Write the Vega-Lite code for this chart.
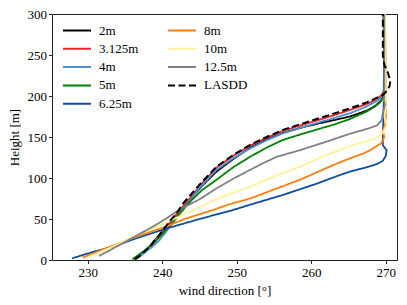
{
  "$schema": "https://vega.github.io/schema/vega-lite/v6.json",
  "width": 345,
  "height": 246,
  "autosize": "none",
  "padding": {"left": 52, "top": 14, "right": 10, "bottom": 45},
  "config": {
    "font": "Liberation Serif, DejaVu Serif, serif",
    "view": {"stroke": "#222", "strokeWidth": 1},
    "axis": {"labelFont": "Liberation Serif, DejaVu Serif, serif", "labelFontSize": 13, "titleFont": "Liberation Serif, DejaVu Serif, serif", "titleFontSize": 13, "titleFontWeight": "normal", "labelColor": "#000", "titleColor": "#000", "tickColor": "#222", "tickSize": 3.5, "grid": false, "domain": false},
    "legend": {"labelFont": "Liberation Serif, DejaVu Serif, serif", "labelFontSize": 13, "labelColor": "#000"}
  },
  "data": {"values": [
    {"s":"2m","x":236.4,"y":1},{"s":"2m","x":237.2,"y":6},{"s":"2m","x":237.9,"y":12},{"s":"2m","x":238.8,"y":22},{"s":"2m","x":239.9,"y":33},{"s":"2m","x":241.0,"y":45},{"s":"2m","x":242.4,"y":61},{"s":"2m","x":243.7,"y":74},{"s":"2m","x":245.5,"y":92},{"s":"2m","x":247.3,"y":108},{"s":"2m","x":249.5,"y":123},{"s":"2m","x":251.8,"y":137},{"s":"2m","x":254,"y":147},{"s":"2m","x":256.2,"y":155},{"s":"2m","x":258.5,"y":161},{"s":"2m","x":260.7,"y":166},{"s":"2m","x":263,"y":170.5},{"s":"2m","x":265.2,"y":175},{"s":"2m","x":267.4,"y":182},{"s":"2m","x":268.6,"y":188},{"s":"2m","x":269.3,"y":194},{"s":"2m","x":269.8,"y":200},{"s":"2m","x":270,"y":206},{"s":"2m","x":270,"y":215},{"s":"2m","x":269.8,"y":235},{"s":"2m","x":269.7,"y":300},
    {"s":"3.125m","x":236.2,"y":1},{"s":"3.125m","x":237.1,"y":6},{"s":"3.125m","x":237.8,"y":12},{"s":"3.125m","x":238.8,"y":22},{"s":"3.125m","x":239.9,"y":33},{"s":"3.125m","x":241,"y":45},{"s":"3.125m","x":242.6,"y":63},{"s":"3.125m","x":245,"y":90},{"s":"3.125m","x":247.3,"y":113},{"s":"3.125m","x":249.5,"y":127},{"s":"3.125m","x":251.8,"y":139.5},{"s":"3.125m","x":254,"y":149},{"s":"3.125m","x":256.2,"y":157.5},{"s":"3.125m","x":258.5,"y":164},{"s":"3.125m","x":260.7,"y":170},{"s":"3.125m","x":263,"y":176.5},{"s":"3.125m","x":265.2,"y":183},{"s":"3.125m","x":267.4,"y":190},{"s":"3.125m","x":268.8,"y":196},{"s":"3.125m","x":269.5,"y":202},{"s":"3.125m","x":269.9,"y":210},{"s":"3.125m","x":270,"y":220},{"s":"3.125m","x":269.8,"y":240},{"s":"3.125m","x":269.7,"y":300},
    {"s":"4m","x":236.3,"y":1},{"s":"4m","x":237.5,"y":8},{"s":"4m","x":238.5,"y":15},{"s":"4m","x":239.5,"y":23},{"s":"4m","x":240.4,"y":33},{"s":"4m","x":241.3,"y":44},{"s":"4m","x":242.8,"y":62},{"s":"4m","x":245,"y":88},{"s":"4m","x":247.3,"y":110},{"s":"4m","x":249.5,"y":124},{"s":"4m","x":251.8,"y":136},{"s":"4m","x":254,"y":146},{"s":"4m","x":256.2,"y":154.5},{"s":"4m","x":258.5,"y":161},{"s":"4m","x":260.7,"y":167},{"s":"4m","x":263,"y":173},{"s":"4m","x":265.2,"y":179},{"s":"4m","x":267.4,"y":187},{"s":"4m","x":268.8,"y":194},{"s":"4m","x":269.6,"y":200},{"s":"4m","x":270,"y":210},{"s":"4m","x":270,"y":230},{"s":"4m","x":269.8,"y":300},
    {"s":"5m","x":236.0,"y":1},{"s":"5m","x":237.4,"y":10},{"s":"5m","x":238.8,"y":20},{"s":"5m","x":240.1,"y":32.6},{"s":"5m","x":241.3,"y":44.8},{"s":"5m","x":242.4,"y":57},{"s":"5m","x":243.5,"y":69},{"s":"5m","x":245.3,"y":85},{"s":"5m","x":247.3,"y":98},{"s":"5m","x":249.5,"y":113},{"s":"5m","x":251.8,"y":126},{"s":"5m","x":254,"y":137},{"s":"5m","x":256.2,"y":146.5},{"s":"5m","x":258.5,"y":153},{"s":"5m","x":260.7,"y":159},{"s":"5m","x":263,"y":165},{"s":"5m","x":265.2,"y":172},{"s":"5m","x":267.4,"y":181},{"s":"5m","x":268.5,"y":187},{"s":"5m","x":269.2,"y":192},{"s":"5m","x":269.6,"y":198},{"s":"5m","x":269.9,"y":205},{"s":"5m","x":270,"y":215},{"s":"5m","x":269.9,"y":240},{"s":"5m","x":269.8,"y":300},
    {"s":"6.25m","x":227.9,"y":2},{"s":"6.25m","x":230,"y":8},{"s":"6.25m","x":232,"y":13},{"s":"6.25m","x":233.6,"y":17},{"s":"6.25m","x":237,"y":28},{"s":"6.25m","x":240.6,"y":38.5},{"s":"6.25m","x":245,"y":50},{"s":"6.25m","x":249.5,"y":61},{"s":"6.25m","x":252,"y":68},{"s":"6.25m","x":256.2,"y":79.4},{"s":"6.25m","x":260.7,"y":93},{"s":"6.25m","x":263.8,"y":103.5},{"s":"6.25m","x":265.2,"y":107.8},{"s":"6.25m","x":267.4,"y":113},{"s":"6.25m","x":268.8,"y":117},{"s":"6.25m","x":269.6,"y":121},{"s":"6.25m","x":270,"y":127},{"s":"6.25m","x":270.1,"y":134},{"s":"6.25m","x":269.6,"y":140},{"s":"6.25m","x":269.6,"y":150},{"s":"6.25m","x":269.7,"y":180},{"s":"6.25m","x":269.8,"y":300},
    {"s":"8m","x":229.3,"y":3},{"s":"8m","x":231,"y":9},{"s":"8m","x":233.5,"y":18},{"s":"8m","x":237,"y":30},{"s":"8m","x":240.6,"y":41},{"s":"8m","x":243,"y":50},{"s":"8m","x":246.8,"y":61},{"s":"8m","x":249,"y":68},{"s":"8m","x":251.8,"y":75},{"s":"8m","x":255,"y":86},{"s":"8m","x":258.5,"y":98},{"s":"8m","x":262,"y":112},{"s":"8m","x":263.8,"y":119},{"s":"8m","x":265.2,"y":124},{"s":"8m","x":267,"y":130},{"s":"8m","x":267.9,"y":134},{"s":"8m","x":269.4,"y":142.5},{"s":"8m","x":269.8,"y":150},{"s":"8m","x":269.6,"y":157},{"s":"8m","x":269.9,"y":165},{"s":"8m","x":270,"y":175},{"s":"8m","x":269.9,"y":300},
    {"s":"10m","x":230.2,"y":4},{"s":"10m","x":231.5,"y":9},{"s":"10m","x":233.5,"y":17},{"s":"10m","x":237,"y":32},{"s":"10m","x":240.6,"y":46},{"s":"10m","x":243,"y":56},{"s":"10m","x":245.1,"y":65},{"s":"10m","x":248,"y":77},{"s":"10m","x":251.8,"y":89.5},{"s":"10m","x":255,"y":102},{"s":"10m","x":258.5,"y":114},{"s":"10m","x":262,"y":128},{"s":"10m","x":263.8,"y":134},{"s":"10m","x":265.2,"y":139},{"s":"10m","x":267,"y":144},{"s":"10m","x":268.3,"y":147},{"s":"10m","x":269.2,"y":151},{"s":"10m","x":269.6,"y":155},{"s":"10m","x":270.1,"y":165},{"s":"10m","x":269.8,"y":175},{"s":"10m","x":270,"y":185},{"s":"10m","x":270,"y":230},{"s":"10m","x":269.9,"y":300},
    {"s":"12.5m","x":231.5,"y":5},{"s":"12.5m","x":233,"y":12},{"s":"12.5m","x":235,"y":22},{"s":"12.5m","x":237,"y":32},{"s":"12.5m","x":239,"y":42},{"s":"12.5m","x":240.6,"y":51},{"s":"12.5m","x":242.4,"y":62},{"s":"12.5m","x":245,"y":74},{"s":"12.5m","x":247.3,"y":87.5},{"s":"12.5m","x":249.5,"y":99},{"s":"12.5m","x":251.8,"y":110},{"s":"12.5m","x":253.5,"y":118},{"s":"12.5m","x":255.4,"y":126},{"s":"12.5m","x":258.5,"y":134},{"s":"12.5m","x":262.1,"y":144.5},{"s":"12.5m","x":265.2,"y":154},{"s":"12.5m","x":267.5,"y":160},{"s":"12.5m","x":268.8,"y":164},{"s":"12.5m","x":269.4,"y":170},{"s":"12.5m","x":269.7,"y":183},{"s":"12.5m","x":269.9,"y":190},{"s":"12.5m","x":269.7,"y":195},{"s":"12.5m","x":269.8,"y":210},{"s":"12.5m","x":269.8,"y":300},
    {"s":"LASDD","x":236.3,"y":1},{"s":"LASDD","x":237,"y":5},{"s":"LASDD","x":237.8,"y":12},{"s":"LASDD","x":238.5,"y":18},{"s":"LASDD","x":239.2,"y":26},{"s":"LASDD","x":239.8,"y":33},{"s":"LASDD","x":240.8,"y":45},{"s":"LASDD","x":242,"y":58},{"s":"LASDD","x":242.8,"y":69},{"s":"LASDD","x":245,"y":92},{"s":"LASDD","x":247.3,"y":114},{"s":"LASDD","x":249.5,"y":128},{"s":"LASDD","x":251.8,"y":140.5},{"s":"LASDD","x":254,"y":150},{"s":"LASDD","x":256.2,"y":158.7},{"s":"LASDD","x":258.5,"y":165.5},{"s":"LASDD","x":260.7,"y":172},{"s":"LASDD","x":263,"y":178.5},{"s":"LASDD","x":265.2,"y":185},{"s":"LASDD","x":267.4,"y":192},{"s":"LASDD","x":268.6,"y":197},{"s":"LASDD","x":269.6,"y":201},{"s":"LASDD","x":270.1,"y":206},{"s":"LASDD","x":270.5,"y":212},{"s":"LASDD","x":270.6,"y":218},{"s":"LASDD","x":270.3,"y":228},{"s":"LASDD","x":269.8,"y":238},{"s":"LASDD","x":269.6,"y":250},{"s":"LASDD","x":269.6,"y":300}
  ]},
  "encoding": {
    "x": {"field": "x", "type": "quantitative", "scale": {"domain": [225.2, 271.5], "nice": false, "zero": false}, "axis": {"title": "wind direction  [°]", "values": [230, 240, 250, 260, 270], "labelPadding": 3, "titlePadding": 5}},
    "y": {"field": "y", "type": "quantitative", "scale": {"domain": [0, 300], "nice": false}, "axis": {"title": "Height [m]", "values": [0, 50, 100, 150, 200, 250, 300], "labelPadding": 2, "titlePadding": 6}},
    "order": {"field": "y", "type": "quantitative"},
    "color": {"field": "s", "type": "nominal",
      "scale": {"domain": ["2m", "3.125m", "4m", "5m", "6.25m", "8m", "10m", "12.5m", "LASDD"],
                "range": ["#000000", "#e8262a", "#4f8fd6", "#008000", "#0d4da1", "#ff7f0e", "#fff09a", "#808080", "#000000"]},
      "legend": {"title": null, "orient": "none", "legendX": 17, "legendY": 8.5, "padding": 0, "columns": 2, "columnPadding": 25, "rowPadding": 3.3, "symbolType": "M-2,0H2", "symbolSize": 196, "symbolStrokeWidth": 2, "labelOffset": 14, "labelFontSize": 13}},
    "strokeDash": {"field": "s", "type": "nominal",
      "scale": {"domain": ["2m", "3.125m", "4m", "5m", "6.25m", "8m", "10m", "12.5m", "LASDD"],
                "range": [[1, 0], [1, 0], [1, 0], [1, 0], [1, 0], [1, 0], [1, 0], [1, 0], [7, 3.5]]},
      "legend": {"title": null, "orient": "none", "legendX": 17, "legendY": 8.5, "padding": 0, "columns": 2, "columnPadding": 25, "rowPadding": 3.3, "symbolType": "M-2,0H2", "symbolSize": 196, "symbolStrokeWidth": 2, "labelOffset": 14, "labelFontSize": 13}}
  },
  "layer": [
    {"transform": [{"filter": "datum.s !== 'LASDD'"}], "mark": {"type": "line", "strokeWidth": 1.8}},
    {"transform": [{"filter": "datum.s === 'LASDD'"}], "mark": {"type": "line", "strokeWidth": 2}}
  ]
}
